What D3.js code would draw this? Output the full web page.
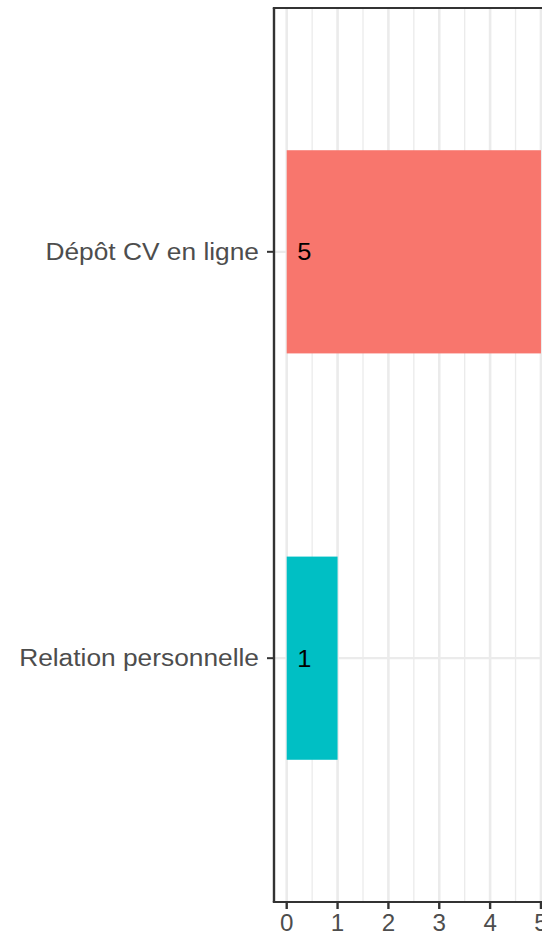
<!DOCTYPE html>
<html lang="fr">
<head>
<meta charset="utf-8">
<script src="https://d3js.org/d3.v7.min.js"></script>
<style>
  body { margin: 0; background: #fff; }
  text { font-family: "Liberation Sans", Arial, sans-serif; }
</style>
</head>
<body>
<div id="chart"></div>
<script>
  // data
  var categories = ["Dépôt CV en ligne", "Relation personnelle"];
  var counts = [5, 1];
  var barColors = ["#F8766D", "#00BFC4"];
  var xTicks = [0, 1, 2, 3, 4, 5];

  var W = 542, H = 937;
  var margin = {top: 8, left: 274, bottom: 35};
  var stretch = 1.12; // labels in the reference run a bit wide

  var svg = d3.select("#chart").append("svg")
      .attr("width", W).attr("height", H);

  var x = d3.scaleLinear()
      .domain([-0.25, 5.25])
      .range([margin.left, margin.left + 5.5 * 50.85]);

  var y = d3.scalePoint()
      .domain(categories)
      .range([margin.top, H - margin.bottom])
      .padding(0.6);

  var bandH = y.step() * 0.5;
  var grid = "#EBEBEB";

  // minor grid (halves)
  var minor = d3.range(-0.5, 5.5, 1).filter(function(d) { return d > -0.25; });
  svg.append("g").selectAll("line").data(minor).enter().append("line")
      .attr("x1", function(d) { return x(d); }).attr("x2", function(d) { return x(d); })
      .attr("y1", y.range()[0]).attr("y2", y.range()[1])
      .attr("stroke", grid).attr("stroke-width", 1.3);

  // major grid
  svg.append("g").selectAll("line").data(xTicks).enter().append("line")
      .attr("x1", function(d) { return x(d); }).attr("x2", function(d) { return x(d); })
      .attr("y1", y.range()[0]).attr("y2", y.range()[1])
      .attr("stroke", grid).attr("stroke-width", 2.6);

  svg.append("g").selectAll("line").data(categories).enter().append("line")
      .attr("x1", x.range()[0]).attr("x2", x.range()[1])
      .attr("y1", function(d) { return y(d); }).attr("y2", function(d) { return y(d); })
      .attr("stroke", grid).attr("stroke-width", 2.2);

  // bars
  svg.append("g").selectAll("rect").data(categories).enter().append("rect")
      .attr("x", x(0))
      .attr("y", function(d) { return y(d) - bandH / 2; })
      .attr("width", function(d, i) { return x(counts[i]) - x(0); })
      .attr("height", bandH)
      .attr("fill", function(d, i) { return barColors[i]; });

  // value labels
  svg.append("g").selectAll("text").data(categories).enter().append("text")
      .attr("transform", function(d) {
        return "translate(" + (x(0) + 10.5) + "," + y(d) + ") scale(1.08,1)";
      })
      .attr("dy", "0.36em")
      .attr("font-size", 23.5)
      .attr("fill", "#000")
      .text(function(d, i) { return counts[i]; });

  // panel border
  var ink = "#333333";
  svg.append("line").attr("x1", x.range()[0]).attr("x2", x.range()[0])
      .attr("y1", y.range()[0]).attr("y2", y.range()[1])
      .attr("stroke", ink).attr("stroke-width", 2.4);
  svg.append("line").attr("x1", x.range()[0] - 1.2).attr("x2", x.range()[1])
      .attr("y1", y.range()[0]).attr("y2", y.range()[0])
      .attr("stroke", ink).attr("stroke-width", 2);
  svg.append("line").attr("x1", x.range()[0] - 1.2).attr("x2", x.range()[1])
      .attr("y1", y.range()[1]).attr("y2", y.range()[1])
      .attr("stroke", ink).attr("stroke-width", 2);

  // y axis ticks and labels
  var yAxis = svg.append("g");
  yAxis.selectAll("line").data(categories).enter().append("line")
      .attr("x1", x.range()[0] - 7).attr("x2", x.range()[0])
      .attr("y1", function(d) { return y(d); }).attr("y2", function(d) { return y(d); })
      .attr("stroke", ink).attr("stroke-width", 2);
  yAxis.selectAll("text").data(categories).enter().append("text")
      .attr("transform", function(d) {
        return "translate(" + (x.range()[0] - 15) + "," + y(d) + ") scale(" + stretch + ",1)";
      })
      .attr("dy", "0.35em")
      .attr("text-anchor", "end")
      .attr("font-size", 23.5)
      .attr("fill", "#4D4D4D")
      .text(function(d) { return d; });

  // x axis ticks and labels
  var xAxis = svg.append("g");
  xAxis.selectAll("line").data(xTicks).enter().append("line")
      .attr("x1", function(d) { return x(d); }).attr("x2", function(d) { return x(d); })
      .attr("y1", y.range()[1]).attr("y2", y.range()[1] + 7)
      .attr("stroke", ink).attr("stroke-width", 2.4);
  xAxis.selectAll("text").data(xTicks).enter().append("text")
      .attr("transform", function(d) {
        return "translate(" + x(d) + "," + (y.range()[1] + 29) + ") scale(1.05,1)";
      })
      .attr("text-anchor", "middle")
      .attr("font-size", 23)
      .attr("fill", "#4D4D4D")
      .text(function(d) { return d; });
</script>
</body>
</html>
